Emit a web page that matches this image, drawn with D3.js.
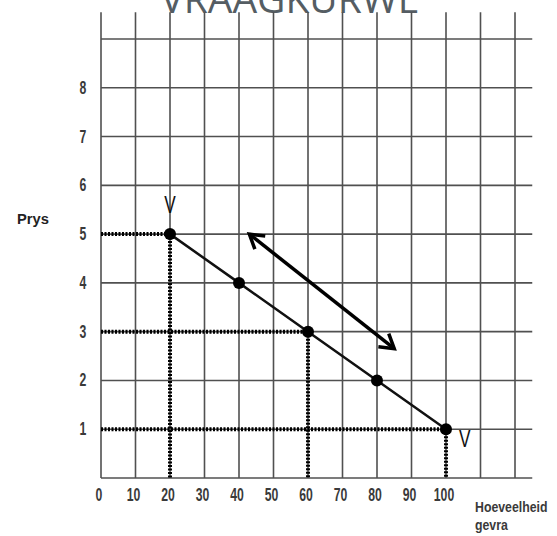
<!DOCTYPE html>
<html lang="af">
<head>
<meta charset="UTF-8">
<title>Vraagkurwe</title>
<script src="https://d3js.org/d3.v7.min.js"></script>
<style>
  body { margin: 0; background: #fff; }
  svg { display: block; }
  .num { font-family: "Liberation Sans", Arial, sans-serif; font-weight: bold; fill: #3a3a3a; }
</style>
</head>
<body>
<div id="chart"></div>
<script>
    const width = 557, height = 536;

    // data
    const xTickValues = [0, 10, 20, 30, 40, 50, 60, 70, 80, 90, 100];
    const yTickValues = [1, 2, 3, 4, 5, 6, 7, 8];
    const gridX = [0, 10, 20, 30, 40, 50, 60, 70, 80, 90, 100, 110, 120];
    const gridY = [0, 1, 2, 3, 4, 5, 6, 7, 8, 9];
    const quantity = [20, 40, 60, 80, 100];
    const price = [5, 4, 3, 2, 1];
    const guideQuantity = [20, 60, 100];
    const guidePrice = [5, 3, 1];
    const arrowFrom = [43, 5];
    const arrowTo = [85, 2.65];

    const x = d3.scaleLinear().domain([0, 120]).range([101, 515]);
    const y = d3.scaleLinear().domain([0, 9]).range([478, 39]);

    const svg = d3.select("#chart").append("svg")
        .attr("width", width)
        .attr("height", height);

    // condensed text: squeeze horizontally around the anchor point
    function narrowText(g, tx, ty, str, size, sx, anchor) {
        return g.append("text")
            .attr("class", "num")
            .attr("transform", `translate(${tx},${ty}) scale(${sx},1)`)
            .attr("text-anchor", anchor || "start")
            .style("font-size", size + "px")
            .text(str);
    }

    // title, cut off at the top as in the scan
    svg.append("text")
        .attr("x", 290).attr("y", 13)
        .attr("text-anchor", "middle")
        .style("font-family", "'Open Sans', sans-serif")
        .style("font-size", "39px")
        .style("fill", "#555d63")
        .text("VRAAGKURWE");

    // grid
    const grid = svg.append("g").attr("stroke", "#505050").attr("stroke-width", 1.6);
    grid.selectAll("line.v").data(gridX).join("line")
        .attr("class", "v")
        .attr("x1", d => x(d)).attr("x2", d => x(d))
        .attr("y1", y(0)).attr("y2", y(9.55));
    grid.selectAll("line.h").data(gridY).join("line")
        .attr("class", "h")
        .attr("x1", x(0)).attr("x2", x(125))
        .attr("y1", d => y(d)).attr("y2", d => y(d));

    // tick labels
    const labels = svg.append("g");
    xTickValues.forEach(d => narrowText(labels, x(d) - 2, 501, d, 18, 0.68, "middle"));
    yTickValues.forEach(d => narrowText(labels, 83, y(d) + 6, d, 18, 0.68, "middle"));

    narrowText(labels, 17, 224, "Prys", 15.5, 0.95).style("fill", "#222");
    narrowText(labels, 475, 512, "Hoeveelheid", 14, 0.88);
    narrowText(labels, 475, 530, "gevra", 14, 0.88);

    // dotted guides
    const guides = svg.append("g")
        .attr("stroke", "#000").attr("stroke-width", 4)
        .attr("stroke-dasharray", "2,1.5").attr("fill", "none");
    guideQuantity.forEach((q, i) => {
        const p = guidePrice[i];
        guides.append("line")
            .attr("x1", x(0)).attr("x2", x(q))
            .attr("y1", y(p)).attr("y2", y(p));
        guides.append("line")
            .attr("x1", x(q)).attr("x2", x(q))
            .attr("y1", y(p)).attr("y2", y(0));
    });

    // demand curve
    const pts = quantity.map((q, i) => [q, price[i]]);
    svg.append("path")
        .datum(pts)
        .attr("fill", "none")
        .attr("stroke", "#111")
        .attr("stroke-width", 2.5)
        .attr("d", d3.line().x(d => x(d[0])).y(d => y(d[1])));
    svg.selectAll("circle.pt").data(pts).join("circle")
        .attr("class", "pt")
        .attr("cx", d => x(d[0])).attr("cy", d => y(d[1]))
        .attr("r", 6)
        .attr("fill", "#000");

    // V labels
    narrowText(svg, x(20), 213, "V", 23, 0.75, "middle")
        .style("font-weight", "normal").style("fill", "#111");
    narrowText(svg, 459, 447, "V", 23, 0.75)
        .style("font-weight", "normal").style("fill", "#111");

    // double-headed arrow
    const ax1 = x(arrowFrom[0]), ay1 = y(arrowFrom[1]);
    const ax2 = x(arrowTo[0]), ay2 = y(arrowTo[1]);
    const ang = Math.atan2(ay2 - ay1, ax2 - ax1);
    const arrowG = svg.append("g")
        .attr("stroke", "#000").attr("stroke-width", 3.5)
        .attr("fill", "none").attr("stroke-linecap", "butt");
    arrowG.append("line")
        .attr("x1", ax1).attr("y1", ay1)
        .attr("x2", ax2).attr("y2", ay2);
    const head = 16, spread = 0.55;
    [[ax1, ay1, ang], [ax2, ay2, ang + Math.PI]].forEach(([hx, hy, a]) => {
        arrowG.append("path")
            .attr("d", `M${hx + head * Math.cos(a + spread)},${hy + head * Math.sin(a + spread)}
                        L${hx},${hy}
                        L${hx + head * Math.cos(a - spread)},${hy + head * Math.sin(a - spread)}`);
    });
</script>
</body>
</html>
